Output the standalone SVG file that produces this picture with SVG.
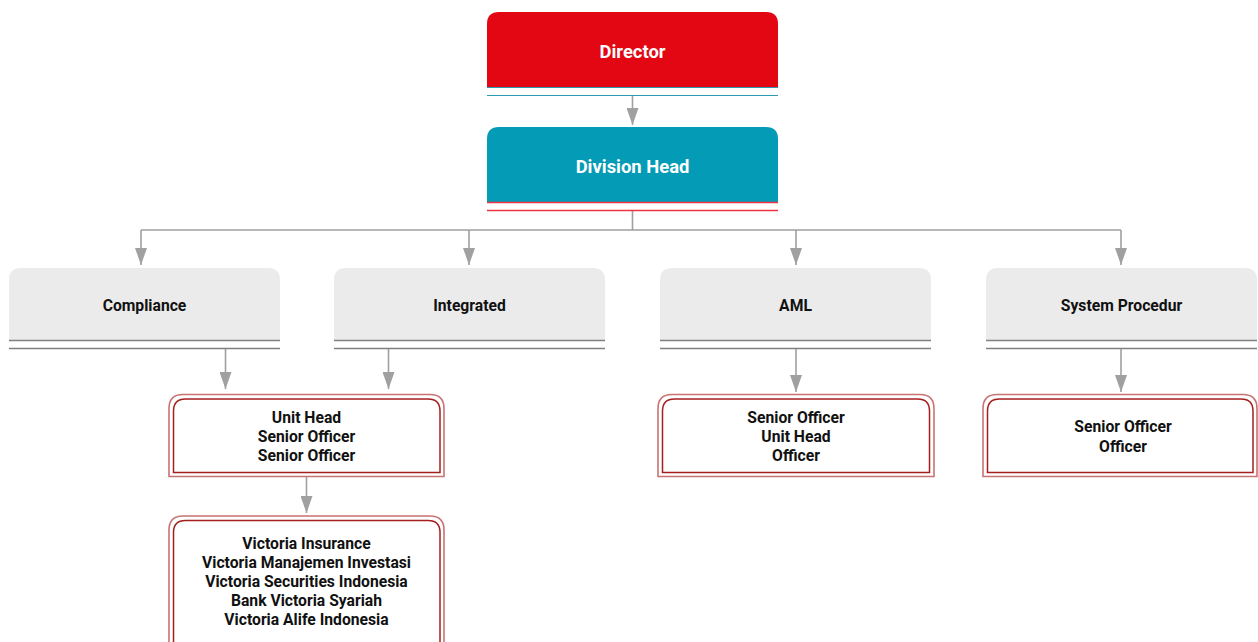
<svg xmlns="http://www.w3.org/2000/svg" width="1258" height="642" viewBox="0 0 1258 642">
<defs>
<marker id="arr" markerUnits="userSpaceOnUse" markerWidth="17" markerHeight="12" viewBox="0 0 17 12" refX="17" refY="6" orient="auto">
<path d="M0,0 L17,6 L0,12 z" fill="#A0A0A0"/>
</marker>
</defs>
<style>
.t{font-family:Roboto,"Liberation Sans",sans-serif;font-weight:bold;text-anchor:middle}
.tw{fill:#FFFFFF;font-size:18.4px}
.tb{fill:#111111;font-size:15.7px}
.gray{fill:#EBEBEB}
.gl{stroke:#808080;stroke-width:1.5;fill:none}
.c{stroke:#A0A0A0;stroke-width:1.6;fill:none}
.ob{stroke:#C87272;stroke-width:1.6;fill:#FFFFFF}
.ib{stroke:#A51F1F;stroke-width:1.5;fill:none}
</style>
<rect width="1258" height="642" fill="#FFFFFF"/>
<g id="connectors">
<path class="c" d="M632.5,95 V125" marker-end="url(#arr)"/>
<path class="c" d="M632.5,210 V230 M141,230 H1121"/>
<path class="c" d="M141,230 V265" marker-end="url(#arr)"/>
<path class="c" d="M469,230 V265" marker-end="url(#arr)"/>
<path class="c" d="M796,230 V265" marker-end="url(#arr)"/>
<path class="c" d="M1121,230 V265" marker-end="url(#arr)"/>
<path class="c" d="M225.5,348 V389" marker-end="url(#arr)"/>
<path class="c" d="M388.5,348 V389" marker-end="url(#arr)"/>
<path class="c" d="M796,348 V392" marker-end="url(#arr)"/>
<path class="c" d="M1121,348 V392" marker-end="url(#arr)"/>
<path class="c" d="M306.5,477 V513" marker-end="url(#arr)"/>
</g>
<g id="director">
<path d="M487,87 V24 Q487,12 499,12 H766 Q778,12 778,24 V87 z" fill="#E30613"/>
<line x1="487" y1="87.5" x2="778" y2="87.5" stroke="#2A9BB0" stroke-width="1"/>
<line x1="487" y1="95.5" x2="778" y2="95.5" stroke="#2A9BB0" stroke-width="1.2"/>
<text class="t tw" x="632.5" y="58">Director</text>
</g>
<g id="division-head">
<path d="M487,202 V139 Q487,127 499,127 H766 Q778,127 778,139 V202 z" fill="#039BB5"/>
<line x1="487" y1="202.5" x2="778" y2="202.5" stroke="#EE3344" stroke-width="1.3"/>
<line x1="487" y1="210.5" x2="778" y2="210.5" stroke="#EE3344" stroke-width="1.3"/>
<text class="t tw" x="632.5" y="173">Division Head</text>
</g>
<g id="compliance">
<path class="gray" d="M9,340 V280 Q9,268 21,268 H268 Q280,268 280,280 V340 z"/>
<path class="gl" d="M9,340.5 H280 M9,348.5 H280"/>
<text class="t tb" x="144.5" y="311">Compliance</text>
</g>
<g id="integrated">
<path class="gray" d="M334,340 V280 Q334,268 346,268 H593 Q605,268 605,280 V340 z"/>
<path class="gl" d="M334,340.5 H605 M334,348.5 H605"/>
<text class="t tb" x="469.5" y="311">Integrated</text>
</g>
<g id="aml">
<path class="gray" d="M660,340 V280 Q660,268 672,268 H919 Q931,268 931,280 V340 z"/>
<path class="gl" d="M660,340.5 H931 M660,348.5 H931"/>
<text class="t tb" x="795.5" y="311">AML</text>
</g>
<g id="system-procedur">
<path class="gray" d="M986,340 V280 Q986,268 998,268 H1245 Q1257,268 1257,280 V340 z"/>
<path class="gl" d="M986,340.5 H1257 M986,348.5 H1257"/>
<text class="t tb" x="1121.5" y="311">System Procedur</text>
</g>
<g id="unit-compliance-integrated">
<path class="ob" d="M169,476.5 V408.5 Q169,394.5 183,394.5 H430 Q444,394.5 444,408.5 V476.5 z"/>
<path class="ib" d="M173.5,472.5 V411 Q173.5,399 185.5,399 H428 Q440,399 440,411 V472.5 z"/>
<text class="t tb" x="306.5" y="423">Unit Head</text>
<text class="t tb" x="306.5" y="442">Senior Officer</text>
<text class="t tb" x="306.5" y="461">Senior Officer</text>
</g>
<g id="unit-aml">
<path class="ob" d="M658,476.5 V408.5 Q658,394.5 672,394.5 H920 Q934,394.5 934,408.5 V476.5 z"/>
<path class="ib" d="M662.5,472.5 V411 Q662.5,399 674.5,399 H917.5 Q929.5,399 929.5,411 V472.5 z"/>
<text class="t tb" x="796" y="423">Senior Officer</text>
<text class="t tb" x="796" y="442">Unit Head</text>
<text class="t tb" x="796" y="461">Officer</text>
</g>
<g id="unit-system">
<path class="ob" d="M983,476.5 V408.5 Q983,394.5 997,394.5 H1243 Q1257,394.5 1257,408.5 V476.5 z"/>
<path class="ib" d="M987.5,472.5 V411 Q987.5,399 999.5,399 H1241 Q1253,399 1253,411 V472.5 z"/>
<text class="t tb" x="1123" y="432">Senior Officer</text>
<text class="t tb" x="1123" y="451.5">Officer</text>
</g>
<g id="victoria-entities">
<path class="ob" d="M169,660 V530 Q169,516 183,516 H430 Q444,516 444,530 V660 z"/>
<path class="ib" d="M173.5,660 V532.5 Q173.5,520.5 185.5,520.5 H428 Q440,520.5 440,532.5 V660 z"/>
<text class="t tb" x="306.5" y="549">Victoria Insurance</text>
<text class="t tb" x="306.5" y="568">Victoria Manajemen Investasi</text>
<text class="t tb" x="306.5" y="587">Victoria Securities Indonesia</text>
<text class="t tb" x="306.5" y="606">Bank Victoria Syariah</text>
<text class="t tb" x="306.5" y="625">Victoria Alife Indonesia</text>
</g>
</svg>
